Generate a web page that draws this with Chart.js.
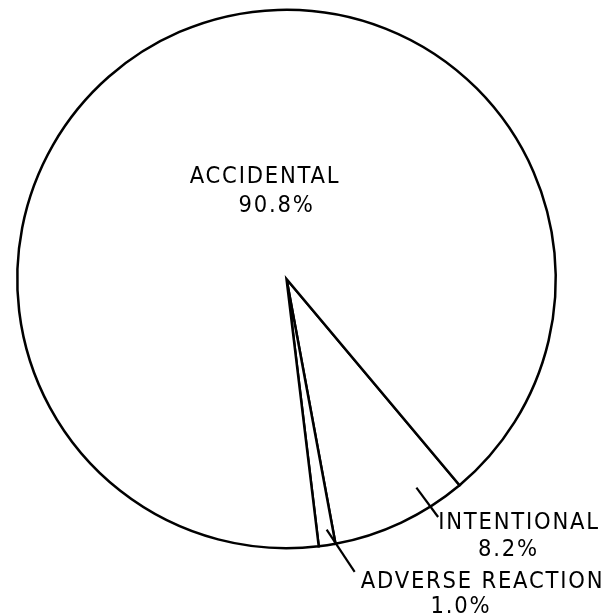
<!DOCTYPE html>
<html>
<head>
<meta charset="utf-8">
<script src="https://cdn.jsdelivr.net/npm/chart.js@4"></script>
<style>
  html, body { margin: 0; padding: 0; background: #ffffff; }
  #wrap { width: 616px; height: 614px; position: relative; }
</style>
</head>
<body>
<div id="wrap"><canvas id="c" width="616" height="614"></canvas></div>
<script>
// Data (order drawn clockwise starting at the Intentional slice)
const categories = ['INTENTIONAL', 'ADVERSE REACTION', 'ACCIDENTAL'];
const percentValues = [8.2, 1.0, 90.8];
const percentLabels = ['8.2%', '1.0%', '90.8%'];

const labelStyle = {
  font: '23.5px "DejaVu Sans Condensed", "DejaVu Sans", sans-serif',
  color: '#000000'
};

const labelPlugin = {
  id: 'pieLabels',
  afterDraw(chart) {
    const ctx = chart.ctx;
    const meta = chart.getDatasetMeta(0);
    const arc0 = meta.data[0];
    const cx = arc0.x, cy = arc0.y, R = arc0.outerRadius;
    const pt = (angDeg, rf) => {
      const a = angDeg * Math.PI / 180;
      return [cx + Math.cos(a) * R * rf, cy + Math.sin(a) * R * rf];
    };
    ctx.save();
    ctx.strokeStyle = '#000';
    ctx.lineWidth = 2.2;
    ctx.lineCap = 'butt';
    // leader lines (angle from east clockwise, radius fraction)
    const leaders = [
      [[58.1, 0.913], [57.5, 1.048]],
      [[80.9, 0.943], [76.9, 1.117]]
    ];
    leaders.forEach(([a, b]) => {
      const p1 = pt(a[0], a[1]), p2 = pt(b[0], b[1]);
      ctx.beginPath();
      ctx.moveTo(p1[0], p1[1]);
      ctx.lineTo(p2[0], p2[1]);
      ctx.stroke();
    });
    ctx.fillStyle = labelStyle.color;
    ctx.font = labelStyle.font;
    ctx.textAlign = 'center';
    ctx.textBaseline = 'alphabetic';
    ctx.letterSpacing = '1.8px';
    // text positions relative to pie centre
    const texts = [
      [categories[2], -21.5, -96], [percentLabels[2], -10, -67],
      [categories[0], 232.5, 250], [percentLabels[0], 222, 277],
      [categories[1], 196, 309], [percentLabels[1], 174.5, 334]
    ];
    texts.forEach(([t, dx, dy]) => ctx.fillText(t, cx + dx, cy + dy));
    ctx.restore();
  }
};

new Chart(document.getElementById('c'), {
  type: 'pie',
  data: {
    labels: categories,
    datasets: [{
      data: percentValues,
      backgroundColor: '#ffffff',
      borderColor: '#000000',
      borderWidth: 2.5,
      borderAlign: 'center',
      borderJoinStyle: 'miter',
      hoverOffset: 0
    }]
  },
  options: {
    responsive: false,
    animation: false,
    rotation: 140,
    layout: { padding: { left: 16, right: 59, top: 8, bottom: 64 } },
    plugins: {
      legend: { display: false },
      tooltip: { enabled: false },
      title: { display: false }
    },
    events: []
  },
  plugins: [labelPlugin]
});
</script>
</body>
</html>
